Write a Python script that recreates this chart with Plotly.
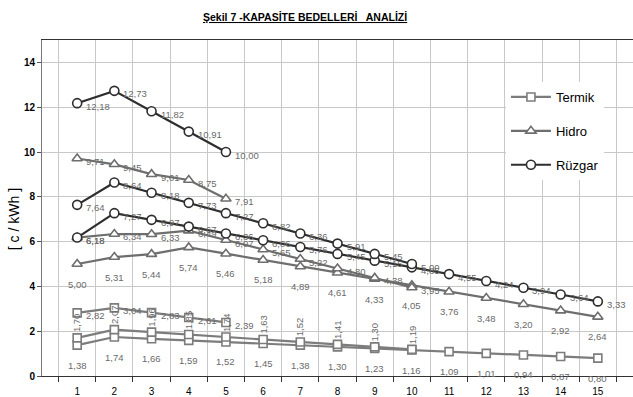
import plotly.graph_objects as go

years = [str(i) for i in range(1, 16)]

# Rüzgar (wind)
ruzgar_5 = [12.18, 12.73, 11.82, 10.91, 10.00]
ruzgar_10 = [7.64, 8.64, 8.18, 7.73, 7.27, 6.82, 6.36, 5.91, 5.45, 5.00]
ruzgar_15 = [6.18, 7.27, 6.97, 6.67, 6.36, 6.06, 5.76, 5.45, 5.15, 4.85, 4.55, 4.24, 3.94, 3.64, 3.33]
# Hidro
hidro_5 = [9.71, 9.45, 9.01, 8.75, 7.91]
hidro_10 = [6.18, 6.34, 6.33, 6.49, 6.07, 5.65, 5.22, 4.80, 4.38, 3.95]
hidro_15 = [5.00, 5.31, 5.44, 5.74, 5.46, 5.18, 4.89, 4.61, 4.33, 4.05, 3.76, 3.48, 3.20, 2.92, 2.64]
# Termik
termik_5 = [2.82, 3.04, 2.83, 2.61, 2.39]
termik_10 = [1.70, 2.07, 1.96, 1.85, 1.74, 1.63, 1.52, 1.41, 1.30, 1.19]
termik_15 = [1.38, 1.74, 1.66, 1.59, 1.52, 1.45, 1.38, 1.30, 1.23, 1.16, 1.09, 1.01, 0.94, 0.87, 0.80]

y_ticks = [0, 2, 4, 6, 8, 10, 12, 14]
title_text = "Şekil 7 -KAPASİTE BEDELLERİ   ANALİZİ"
y_title = "[ c / kWh ]"

styles = {
    "Rüzgar": dict(color="#2e2e2e", symbol="circle", size=9),
    "Hidro": dict(color="#6e6e6e", symbol="triangle-up", size=9),
    "Termik": dict(color="#7c7c7c", symbol="square", size=8),
}

# (name, values, label mode)
series = [
    ("Termik", termik_15, "below"),
    ("Termik", termik_10, "rot"),
    ("Termik", termik_5, "right"),
    ("Hidro", hidro_15, "below"),
    ("Hidro", hidro_10, "right"),
    ("Hidro", hidro_5, "right"),
    ("Rüzgar", ruzgar_15, "right"),
    ("Rüzgar", ruzgar_10, "right"),
    ("Rüzgar", ruzgar_5, "right"),
]

fig = go.Figure()
shown = set()
annotations = []
for name, vals, mode in series:
    st = styles[name]
    xs = years[:len(vals)]
    fig.add_trace(go.Scatter(
        x=xs, y=vals, mode="lines+markers", name=name,
        legendgroup=name, showlegend=name not in shown,
        line=dict(color=st["color"], width=2.2),
        marker=dict(symbol=st["symbol"], size=st["size"], color="white",
                    line=dict(color=st["color"], width=1.6)),
        cliponaxis=False,
    ))
    shown.add(name)
    for idx, v in enumerate(vals):
        txt = f"{v:.2f}".replace(".", ",")
        # category axis: annotation x is the category index
        a = dict(x=idx, y=v, xref="x", yref="y", text=txt, showarrow=False,
                 font=dict(family="Arial, Liberation Sans", size=9.5, color="#6a6a6a"))
        if mode == "right":
            a.update(xanchor="left", yanchor="middle", xshift=7, yshift=-3)
        elif mode == "below":
            a.update(xanchor="center", yanchor="middle", yshift=-20)
        else:
            a.update(xanchor="center", yanchor="middle", yshift=15, textangle=-90)
        annotations.append(a)

annotations.append(dict(
    text="<u><b>" + title_text + "</b></u>", xref="paper", yref="paper",
    x=0.445, y=1.068, xanchor="center", yanchor="middle", showarrow=False,
    font=dict(family="Liberation Sans Narrow, Arial Narrow, Arial", size=10.5, color="black")))
annotations.append(dict(
    text=y_title, xref="paper", yref="y", x=0, y=7, xshift=-28,
    xanchor="center", yanchor="middle", textangle=-90, showarrow=False,
    font=dict(family="Arial, Liberation Sans", size=14, color="black")))

fig.update_layout(
    width=633, height=397,
    margin=dict(l=42, r=0, t=40, b=21),
    plot_bgcolor="white", paper_bgcolor="white",
    annotations=annotations,
    legend=dict(
        x=0.785, y=0.875, xanchor="left", yanchor="top",
        bgcolor="white", borderwidth=0, tracegroupgap=14,
        font=dict(family="Arial, Liberation Sans", size=13, color="black"),
        itemwidth=40,
    ),
)
fig.update_xaxes(
    type="category", categoryorder="array", categoryarray=years,
    tickson="boundaries", ticks="outside", ticklen=5, tickcolor="#333",
    ticklabelstandoff=6,
    showgrid=True, gridcolor="#c8c8c8", gridwidth=1,
    showline=True, linecolor="#333", linewidth=1, mirror=True,
    tickfont=dict(family="Arial, Liberation Sans", size=10, color="black"),
)
fig.update_yaxes(
    range=[0, 15], tickvals=y_ticks, ticktext=[str(t) for t in y_ticks],
    ticks="outside", ticklen=4, tickcolor="#555",
    showgrid=True, gridcolor="#c8c8c8", gridwidth=1, zeroline=False,
    showline=True, linecolor="#777", linewidth=1, mirror=True,
    tickfont=dict(family="Arial, Liberation Sans", size=10, color="black", weight="bold"),
)

fig.write_html("out.html")
